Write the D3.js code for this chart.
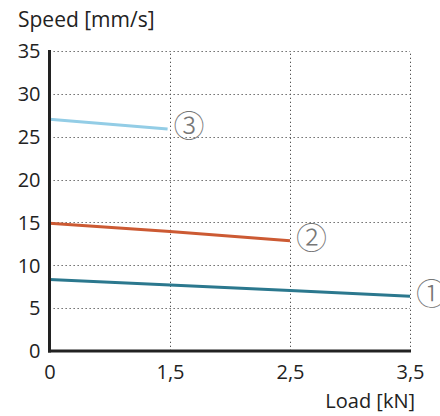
<!DOCTYPE html>
<html><head><meta charset="utf-8">
<script src="https://cdn.jsdelivr.net/npm/d3@7"></script>
<style>body{margin:0;background:#fff}svg{display:block}text{font-family:"Open Sans","Noto Sans",sans-serif;fill:#222}</style>
</head><body><svg id="c" width="440" height="416"></svg>
<script>
const xTicks = [0, 1.5, 2.5, 3.5];
const xTickLabels = ["0", "1,5", "2,5", "3,5"];
const yTicks = [0, 5, 10, 15, 20, 25, 30, 35];
const series1X = [0, 1.5, 2.5, 3.5];
const series1Y = [8.35, 7.7, 7.05, 6.4];
const series2X = [0, 1.5, 2.5];
const series2Y = [14.9, 13.95, 12.85];
const series3X = [0, 1.47];
const series3Y = [27.05, 25.9];
const seriesLabels = ["①", "②", "③"];
const colors = ["#2b788e", "#cc5a33", "#93cde6"];

const svg = d3.select("#c");
const x = d3.scaleLinear().domain(xTicks).range([49.5, 170, 290, 410]);
const y = d3.scaleLinear().domain([0, 35]).range([351, 51]);

// grid
const g = svg.append("g").attr("stroke", "#555").attr("stroke-width", 1).attr("stroke-dasharray", "1.3,2.7");
g.selectAll("line.h").data(yTicks.filter(d => d > 0)).join("line")
  .attr("x1", x(0)).attr("x2", x(3.5)).attr("y1", d => Math.round(y(d)) + 0.5).attr("y2", d => Math.round(y(d)) + 0.5);
g.selectAll("line.v").data(xTicks.filter(d => d > 0)).join("line")
  .attr("y1", y(0)).attr("y2", y(35)).attr("x1", d => Math.round(x(d)) + 0.5).attr("x2", d => Math.round(x(d)) + 0.5);

// series
const line = d3.line().x(d => x(d[0])).y(d => y(d[1]));
const data = [
  d3.zip(series1X, series1Y),
  d3.zip(series2X, series2Y),
  d3.zip(series3X, series3Y)
];
data.forEach((d, i) => {
  svg.append("path").datum(d).attr("d", line).attr("fill", "none")
    .attr("stroke", colors[i]).attr("stroke-width", 3);
  const last = d[d.length - 1];
  svg.append("text").attr("x", x(last[0]) + 6).attr("y", y(last[1]) + 0)
    .attr("dominant-baseline", "middle")
    .style("font-family", '"Noto Sans CJK JP","DejaVu Sans",sans-serif')
    .style("font-weight", "300")
    .style("font-size", "31px").style("fill", "#777").text(seriesLabels[i]);
});

// axes
const ax = d3.axisBottom(x).tickValues(xTicks).tickFormat((d, i) => xTickLabels[i]).tickSize(0).tickPadding(14);
const xa = svg.append("g").attr("transform", `translate(0,${y(0)})`).call(ax);
xa.select(".domain").attr("stroke", "#222").attr("stroke-width", 3).attr("d", `M${x(0)-1.5},0H${x(3.5)+1}`);
xa.selectAll("text").style("font-size", "20px").style("fill", "#222").attr("font-family", null).attr("dy", "0.71em");

const ay = d3.axisLeft(y).tickValues(yTicks).tickSize(0).tickPadding(9);
const ya = svg.append("g").attr("transform", `translate(${x(0)},0)`).call(ay);
ya.select(".domain").attr("stroke", "#222").attr("stroke-width", 3).attr("d", `M0,${y(35)-1}V${y(0)+1.5}`);
ya.selectAll("text").style("font-size", "20px").style("fill", "#222").attr("font-family", null).attr("dy", "0.34em");

svg.append("text").attr("x", 18).attr("y", 27).style("font-size", "21px").text("Speed [mm/s]");
svg.append("text").attr("x", 415).attr("y", 408).attr("text-anchor", "end").style("font-size", "20px").text("Load [kN]");
</script></body></html>
